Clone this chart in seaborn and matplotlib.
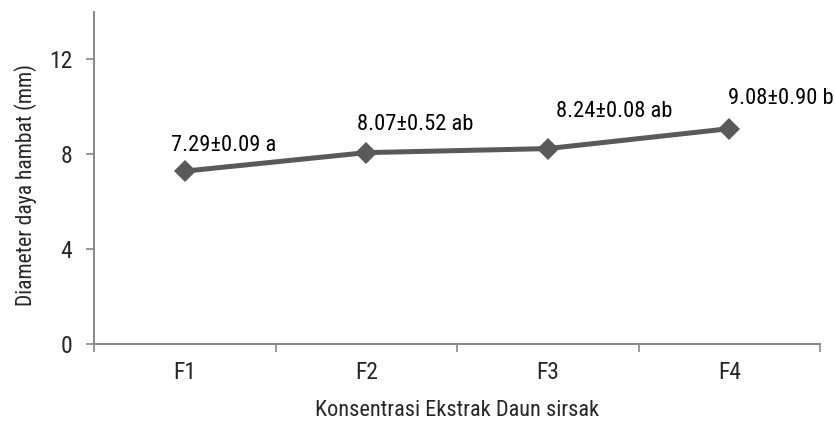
import matplotlib
matplotlib.use("Agg")
import matplotlib.pyplot as plt
import seaborn as sns
import pandas as pd

# data
formulas = ["F1", "F2", "F3", "F4"]
diameter = [7.29, 8.07, 8.24, 9.08]
labels = ["7.29±0.09 a", "8.07±0.52 ab", "8.24±0.08 ab", "9.08±0.90 b"]
# label offsets (points) from each marker, left/baseline anchored
label_offsets = [(-10, 14.5), (-6.5, 16), (5.8, 23), (-0.7, 18)]

sns.set_style("white")
# narrow sans first (reference uses an Arial Narrow look), fall back to regular
plt.rcParams["font.family"] = ["Roboto Condensed", "Liberation Sans", "DejaVu Sans"]

df = pd.DataFrame({"formula": formulas, "diameter": diameter})

fig = plt.figure(figsize=(8.35, 4.21), dpi=100)
ax = fig.add_axes([0.1126, 0.1829, 0.8695, 0.7886])

line_col = "#595959"
axis_col = "#878787"

sns.lineplot(data=df, x="formula", y="diameter", ax=ax, color=line_col,
             linewidth=3.6, marker="D", markersize=11, markeredgewidth=0,
             sort=False)

for i, (v, t) in enumerate(zip(diameter, labels)):
    ax.annotate(t, (i, v), xytext=label_offsets[i], textcoords="offset points",
                ha="left", va="baseline", fontsize=16.2, color="#000000",
                annotation_clip=False)

ax.set_xlim(-0.5, 3.5)
ax.set_ylim(0, 14)
ax.set_yticks([0, 4, 8, 12])
ax.set_xticks(range(len(formulas)))
ax.set_xticklabels(formulas)
ax.set_xticks([-0.5, 0.5, 1.5, 2.5, 3.5], minor=True)
ax.tick_params(axis="x", which="major", length=0, pad=12.5, labelsize=17,
               bottom=True)
ax.tick_params(axis="x", which="minor", length=5.5, width=1.2, color=axis_col,
               direction="out", bottom=True)
ax.tick_params(axis="y", length=5.5, width=1.2, color=axis_col, direction="out",
               labelsize=17, pad=10, left=True)

for side in ["top", "right"]:
    ax.spines[side].set_visible(False)
for side in ["left", "bottom"]:
    ax.spines[side].set_color(axis_col)
    ax.spines[side].set_linewidth(1.4)

ax.set_xlabel("Konsentrasi Ekstrak Daun sirsak", fontsize=16, labelpad=11)
ax.set_ylabel("Diameter daya hambat (mm)", fontsize=15.5)
ax.yaxis.set_label_coords(-0.078, 0.48)

fig.savefig("out.png", dpi=100)
